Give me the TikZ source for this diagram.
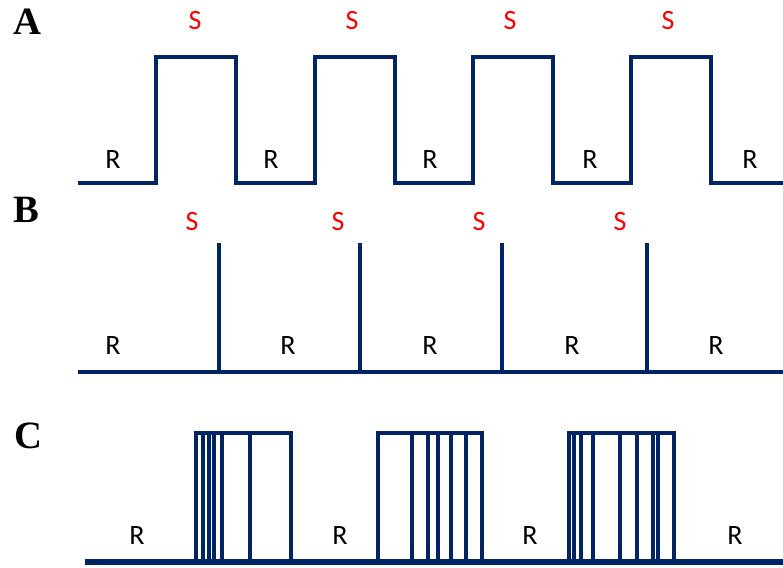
\documentclass[tikz,border=0pt]{standalone}
\usepackage{fontspec}
\setmainfont{Carlito}
\newfontfamily\panelfont{Liberation Serif}
\definecolor{trace_blue}{RGB}{0,36,100}
\tikzset{
        % Waveform lines
        trace/.style={draw=trace_blue, line width=2.6pt, line join=miter},
        % Thicker spikes and base lines
        trace_thick/.style={trace, line width=3.4pt},
        % Rest labels
        label_rest/.style={inner sep=0pt, text=black, font=\fontsize{21}{21}\selectfont},
        % Stimulus labels
        label_stim/.style={label_rest, text=red},
        % Panel letters
        panel_letter/.style={inner sep=0pt, font=\panelfont\bfseries\fontsize{29}{29}\selectfont}
}
\begin{document}
\begin{tikzpicture}[x=0.75pt, y=-0.75pt]
    \useasboundingbox (0,0) rectangle (783,568);
    % panel letters
    \node[panel_letter] (letter_a) at (27,22) {A};
    \node[panel_letter] (letter_b) at (26,210) {B};
    \node[panel_letter] (letter_c) at (28,436) {C};
    % A: square pulses
    \draw[trace] (78,183) foreach \x in {156,315,473,631} { -- (\x,183) -- (\x,57) -- (\x+80,57) -- (\x+80,183) } -- (783,183);
    \foreach \x [count=\i] in {195,352,510,668}
        \node[label_stim] (a_s\i) at (\x,21) {S};
    \foreach \x [count=\i] in {113,271,430,590,750}
        \node[label_rest] (a_r\i) at (\x,160) {R};
    % B: single spikes
    \draw[trace] (78,372) -- (783,372);
    \foreach \x in {219,360,502,647}
        \draw[trace_thick] (\x,373) -- (\x,243);
    \foreach \x [count=\i] in {192,338,479,620}
        \node[label_stim] (b_s\i) at (\x,222) {S};
    \foreach \x [count=\i] in {113,288,430,572,716}
        \node[label_rest] (b_r\i) at (\x,346) {R};
    % C: spike trains
    \draw[trace_thick, line width=4pt] (85,562) -- (783,562);
    \draw[trace] (196,562) rectangle (291,433);
    \draw[trace] (378,562) rectangle (482,433);
    \draw[trace] (569,562) rectangle (674,433);
    \foreach \x in {203,209,214,222,250, 412,428,438,451,466, 574,581,593,620,637,653,658}
        \draw[trace] (\x,562) -- (\x,433);
    \foreach \x [count=\i] in {137,340,530,735}
        \node[label_rest] (c_r\i) at (\x,536) {R};
\end{tikzpicture}
\end{document}
